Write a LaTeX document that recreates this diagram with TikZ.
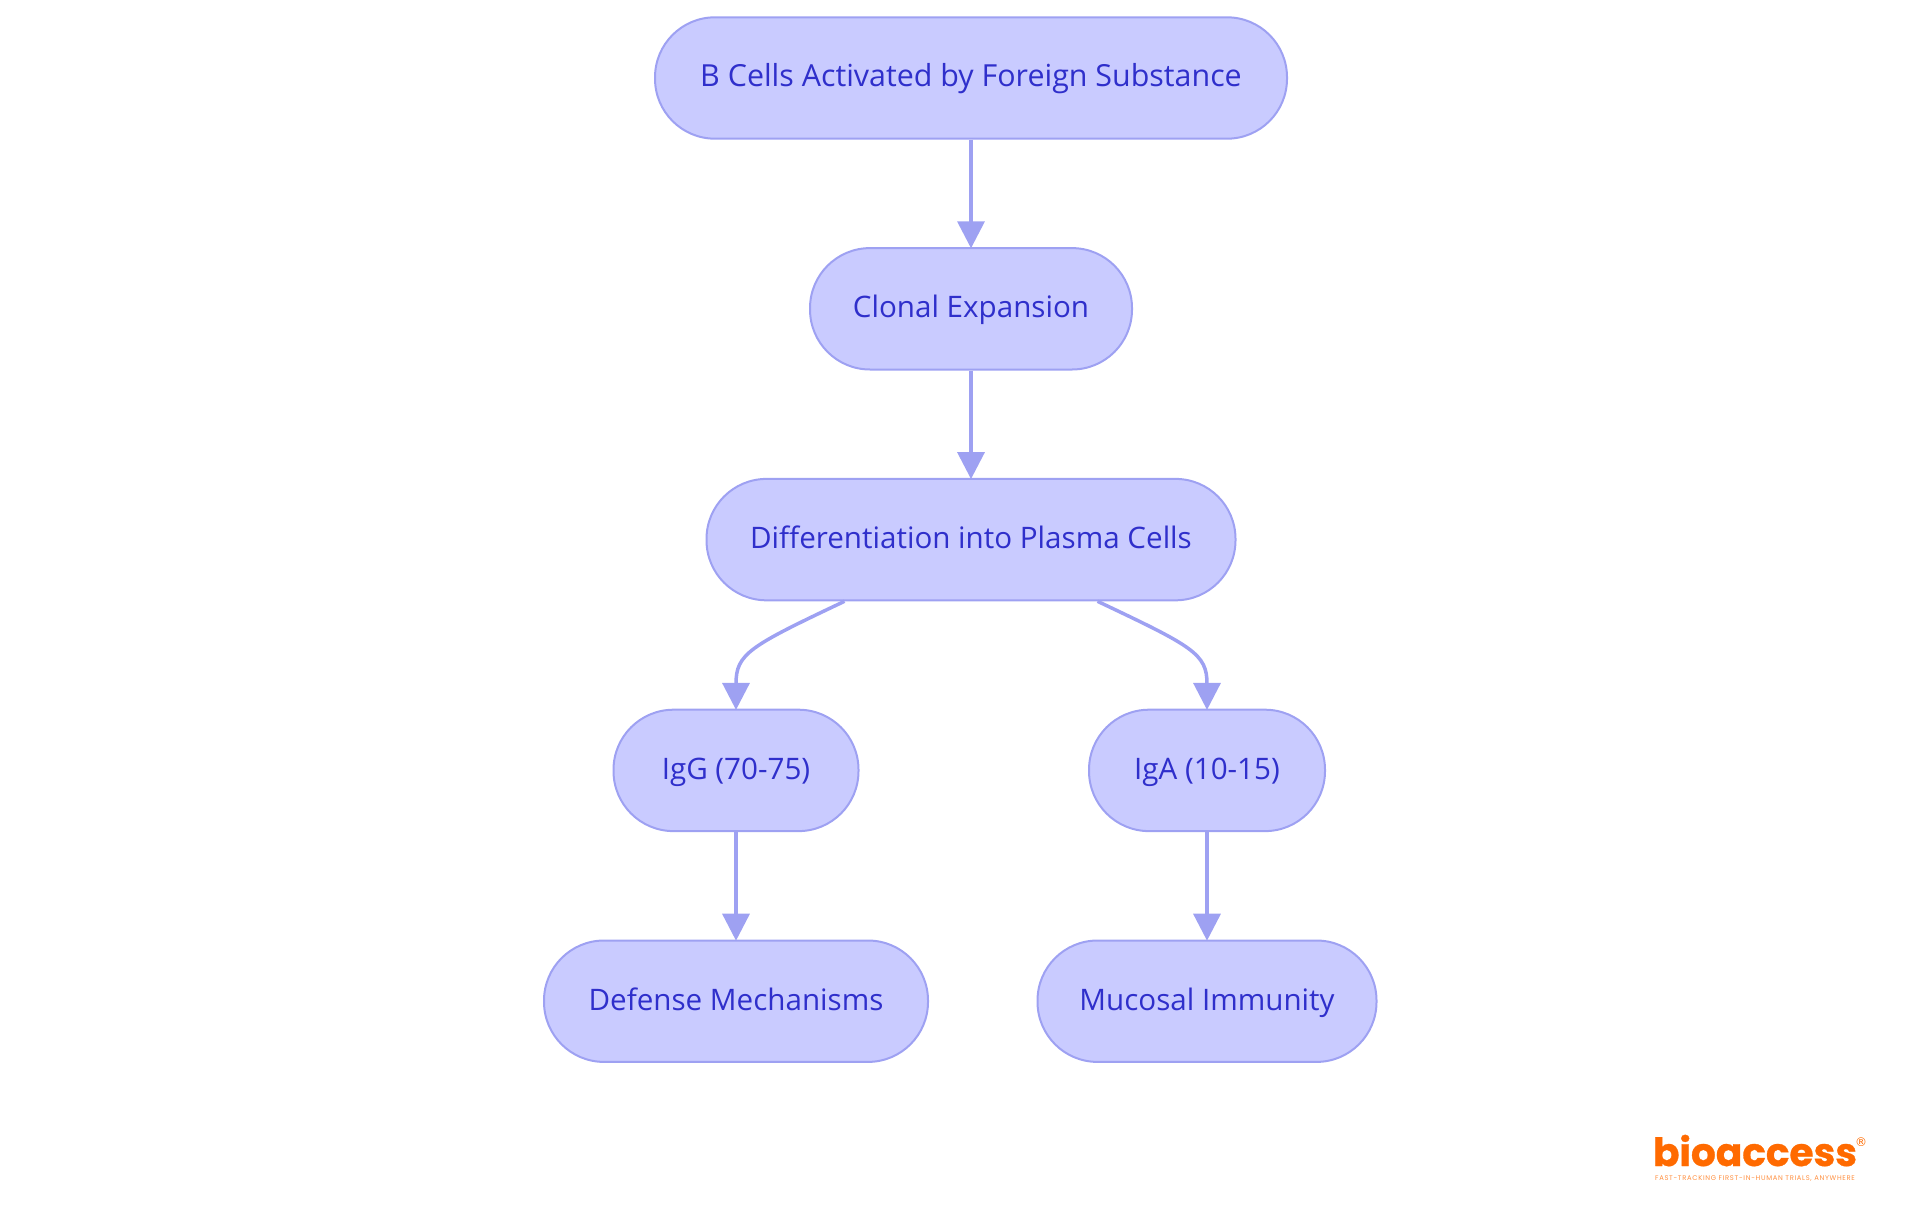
\documentclass[tikz,border=0pt]{standalone}
\usepackage{fontspec}
\setmainfont{Open Sans}
\newfontfamily\logofont[BoldFeatures={FakeBold=0.8}]{Poppins}
\newfontfamily\tagfont[LetterSpace=10]{Poppins}
\newfontfamily\regfont{DejaVu Sans}
\usetikzlibrary{arrows.meta}
\definecolor{boxfill}{HTML}{C9CBFF}
\definecolor{boxline}{HTML}{9EA1F2}
\definecolor{boxtext}{HTML}{2F2FCB}
\definecolor{logoorange}{HTML}{FF6A00}

\begin{document}
\begin{tikzpicture}[x=0.5pt, y=0.5pt, node distance=115.4pt, thick,
		main/.style = {draw=boxline, fill=boxfill, text=boxtext, line width=1pt, rounded corners=30pt, minimum height=60.7pt, inner sep=0pt, text height=12.8pt, text depth=4pt, font=\fontsize{14.8}{16}\selectfont},
		link/.style = {draw=boxline, line width=1.75pt, shorten >=-0.6pt, -{Triangle[length=13.5pt, width=13.5pt]}}]
		\useasboundingbox (0,0) rectangle (1920,-1215);

		\node[main, minimum width=316pt, font=\fontsize{15.2}{16}\selectfont] (1) at (971,-78) {B Cells Activated by Foreign Substance};
		\node[main, minimum width=161pt] (2) [below of=1] {Clonal Expansion};
		\node[main, minimum width=264.5pt] (3) [below of=2] {Differentiation into Plasma Cells};
		\node[main, minimum width=122.5pt] (4) [below of=3, xshift=-117.5pt] {IgG (70-75)};
		\node[main, minimum width=118pt] (5) [below of=3, xshift=118pt] {IgA (10-15)};
		\node[main, minimum width=192pt] (6) [below of=4] {Defense Mechanisms};
		\node[main, minimum width=169.5pt] (7) [below of=5] {Mucosal Immunity};

		\draw[link] (1) -- (2);
		\draw[link] (2) -- (3);
		\draw[link] (3.206) .. controls +(-95,-45) and +(0,55) .. (4.north);
		\draw[link] (3.334) .. controls +(95,-45) and +(0,55) .. (5.north);
		\draw[link] (4) -- (6);
		\draw[link] (5) -- (7);

		\node[text=logoorange, inner sep=0pt, anchor=base, font=\logofont\bfseries\fontsize{19.5}{20}\selectfont] (logo) at (1755,-1166) {bioaccess};
		\node[text=logoorange!75, inner sep=0pt, anchor=base, font=\tagfont\fontsize{3.4}{4}\selectfont] (tag) at (1755,-1180) {FAST-TRACKING FIRST-IN-HUMAN TRIALS, ANYWHERE};
		\node[text=logoorange, inner sep=0pt, font=\regfont\fontsize{6}{6}\selectfont] (reg) at (1861,-1142) {®};
	\end{tikzpicture}
\end{document}
